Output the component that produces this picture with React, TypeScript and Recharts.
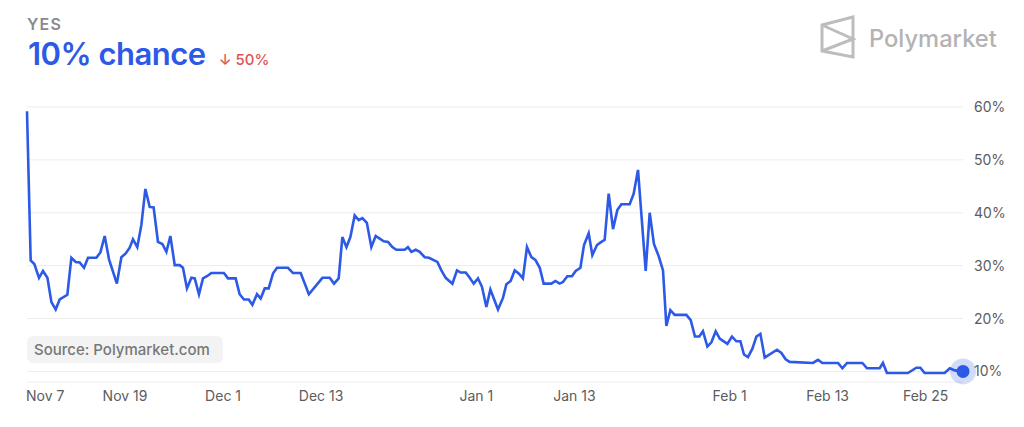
import React from 'react';
import { LineChart, Line, XAxis, YAxis, CartesianGrid } from 'recharts';

// days since Nov 7 and YES probability (%)
const days: number[] = [
  0, 0.45, 0.9, 1.47, 1.96, 2.5, 2.99, 3.51, 4.0, 4.94, 5.43, 5.96, 6.45, 6.98, 7.47, 8.49, 8.98, 9.51, 10.04, 11.0,
  11.55, 12.08, 12.57, 12.97, 13.5, 14.0, 14.49, 15.02, 15.5, 16.03, 16.57, 17.06, 17.55, 18.08, 18.69, 19.09, 19.58, 20.12, 20.53, 21.05,
  21.54, 22.03, 22.57, 24.1, 24.6, 25.54, 26.03, 26.56, 27.14, 27.59, 28.15, 28.6, 29.1, 29.58, 30.11, 30.6, 31.95, 32.56, 33.5, 34.5,
  36.16, 37.05, 37.58, 38.15, 38.6, 39.1, 39.58, 40.11, 40.6, 41.05, 41.6, 42.15, 42.68, 43.17, 43.66, 44.19, 44.72, 45.2, 46.23, 46.63,
  47.05, 47.58, 48.07, 48.68, 49.2, 50.23, 50.72, 51.25, 52.07, 52.63, 53.08, 53.7, 54.19, 54.68, 55.2, 55.69, 56.23, 56.72, 57.65, 58.26,
  58.68, 59.2, 59.7, 60.22, 60.7, 61.2, 61.74, 62.23, 62.76, 63.24, 64.19, 64.68, 65.2, 65.6, 66.14, 66.7, 67.16, 67.74, 68.18, 68.75,
  69.2, 69.77, 70.22, 70.71, 71.2, 71.73, 72.26, 72.75, 73.77, 74.26, 74.79, 75.73, 76.22, 76.74, 77.32, 77.85, 78.26, 78.75, 79.28, 80.71,
  81.24, 81.76, 82.29, 82.74, 83.28, 83.77, 84.3, 84.79, 85.73, 86.29, 86.83, 87.32, 87.76, 88.25, 88.79, 89.28, 89.77, 90.3, 91.8, 92.34,
  92.86, 93.35, 96.21, 96.82, 97.36, 99.27, 99.81, 100.37, 102.25, 102.82, 104.37, 104.77, 105.26, 107.83, 108.86, 109.35, 109.87, 112.32, 112.96, 113.57,
  114.57,
];
const yesValues: number[] = [
  59.2, 31.0, 30.3, 27.7, 29.0, 27.7, 23.1, 21.7, 23.6, 24.5, 31.5, 30.7, 30.6, 29.6, 31.5, 31.5, 32.5, 35.6, 31.2, 26.6,
  31.6, 32.3, 33.4, 35.0, 33.5, 37.7, 44.5, 41.1, 41.0, 34.5, 34.1, 32.6, 35.6, 30.1, 30.1, 29.6, 25.7, 27.7, 27.6, 24.6,
  27.6, 28.0, 28.6, 28.6, 27.6, 27.6, 24.6, 23.6, 23.6, 22.6, 24.6, 23.8, 25.7, 25.7, 28.5, 29.6, 29.6, 28.6, 28.6, 24.6,
  27.7, 27.7, 26.6, 27.6, 35.4, 33.5, 35.4, 39.5, 38.6, 39.0, 38.1, 33.5, 35.6, 35.1, 34.6, 34.5, 33.5, 33.0, 33.0, 33.5,
  32.6, 33.0, 32.6, 31.6, 31.5, 30.7, 29.1, 27.7, 26.6, 29.1, 28.7, 28.7, 27.7, 26.6, 27.6, 26.0, 22.2, 25.5, 21.7, 23.9,
  26.5, 27.1, 29.1, 28.5, 27.6, 33.5, 31.6, 31.1, 29.6, 26.6, 26.6, 27.1, 26.6, 26.9, 28.0, 28.0, 29.0, 29.6, 33.9, 36.1,
  32.0, 33.9, 34.4, 34.9, 43.6, 36.9, 40.5, 41.6, 41.6, 43.6, 48.1, 29.0, 40.0, 34.1, 31.8, 29.1, 18.6, 21.6, 20.7, 20.7,
  19.7, 16.6, 16.6, 17.6, 14.7, 15.5, 17.6, 16.2, 15.2, 16.6, 15.7, 15.7, 13.2, 12.7, 14.3, 16.6, 17.1, 12.6, 14.1, 13.5,
  12.3, 11.8, 11.6, 12.2, 11.6, 11.6, 10.6, 11.6, 11.6, 10.6, 10.6, 11.6, 9.7, 9.7, 10.7, 10.7, 9.7, 9.7, 10.6, 10.2,
  10.0,
];

const xTickDays: number[] = [0, 12, 24, 36, 55, 67, 86, 98, 110];
const xTickLabels: string[] = ['Nov 7', 'Nov 19', 'Dec 1', 'Dec 13', 'Jan 1', 'Jan 13', 'Feb 1', 'Feb 13', 'Feb 25'];
const yTicks: number[] = [10, 20, 30, 40, 50, 60];

const data = days.map((d, i) => ({ d, v: yesValues[i] }));
const lastIndex = data.length - 1;

const BLUE = '#2c59e6';
const FONT = 'Inter, "Noto Sans", sans-serif';

const XTick = (props: any) => {
  const { x, y, payload, index } = props;
  const idx = xTickDays.indexOf(payload.value);
  const label = idx >= 0 ? xTickLabels[idx] : '';
  const first = index === 0;
  return (
    <text
      x={first ? x - 1 : x}
      y={y}
      dy="0.71em"
      textAnchor={first ? 'start' : 'middle'}
      fill="#5c5c5c"
      fontSize={14}
      fontFamily={FONT}
    >
      {label}
    </text>
  );
};

const EndDot = (props: any) => {
  const { cx, cy, index } = props;
  if (index !== lastIndex) return <g key={`d${index}`} />;
  return (
    <g key={`d${index}`}>
      <circle cx={cx} cy={cy} r={13} fill={BLUE} fillOpacity={0.22} />
      <circle cx={cx} cy={cy} r={6.5} fill={BLUE} />
    </g>
  );
};

export default function App() {
  return (
    <div style={{ position: 'absolute', left: 0, top: 0, width: 1024, height: 427, background: '#fff', fontFamily: FONT, overflow: 'hidden' }}>
      <div style={{ position: 'absolute', left: 27, top: 16, fontSize: 16, lineHeight: '16px', fontWeight: 600, letterSpacing: 1.2, color: '#8a8a8a' }}>
        YES
      </div>
      <div style={{ position: 'absolute', left: 28, top: 38, display: 'flex', alignItems: 'baseline', whiteSpace: 'nowrap' }}>
        <span style={{ fontSize: 31, lineHeight: '31px', fontWeight: 600, color: BLUE, letterSpacing: -0.5 }}>10% chance</span>
        <span style={{ fontSize: 15, fontWeight: 500, color: '#e0544f', marginLeft: 13 }}>↓ 50%</span>
      </div>
      <div style={{ position: 'absolute', left: 820, top: 15, display: 'flex', alignItems: 'center' }}>
        <svg width={36} height={44} viewBox="0 0 36 44">
          <path d="M2,10 L33,2 L33,42 L2,36 Z M2,10 L33,24 L2,36" fill="none" stroke="#bdbdbd" strokeWidth={3} strokeLinejoin="miter" />
        </svg>
      </div>
      <div style={{ position: 'absolute', left: 869, top: 27, fontSize: 23.7, lineHeight: '23px', fontWeight: 500, color: '#b3b3b3' }}>
        Polymarket
      </div>

      <div style={{ position: 'absolute', left: 0, top: 0 }}>
        <LineChart width={1024} height={427} data={data} margin={{ top: 107, right: 11, bottom: 15, left: 27 }}>
          <CartesianGrid vertical={false} stroke="#ececec" strokeWidth={1} />
          <XAxis
            dataKey="d"
            type="number"
            domain={[0, 114.57]}
            ticks={xTickDays}
            interval={0}
            axisLine={false}
            tickLine={false}
            tickMargin={3}
            height={30}
            tick={<XTick />}
          />
          <YAxis
            orientation="right"
            type="number"
            domain={[8, 60]}
            ticks={yTicks}
            interval={0}
            axisLine={false}
            tickLine={false}
            tickMargin={5}
            width={50}
            tickFormatter={(v: number) => `${v}%`}
            tick={{ fill: '#5c5c5c', fontSize: 14, fontFamily: FONT }}
          />
          <Line
            type="linear"
            dataKey="v"
            stroke={BLUE}
            strokeWidth={2.6}
            dot={EndDot}
            activeDot={false}
            isAnimationActive={false}
          />
        </LineChart>
      </div>

      <div style={{ position: 'absolute', left: 27, top: 336, width: 196, height: 27, background: '#f3f3f3', borderRadius: 6 }}>
        <div style={{ position: 'absolute', left: 7, top: 5, fontSize: 15, lineHeight: '17px', fontWeight: 500, color: '#777', whiteSpace: 'nowrap' }}>
          Source: Polymarket.com
        </div>
      </div>
    </div>
  );
}
